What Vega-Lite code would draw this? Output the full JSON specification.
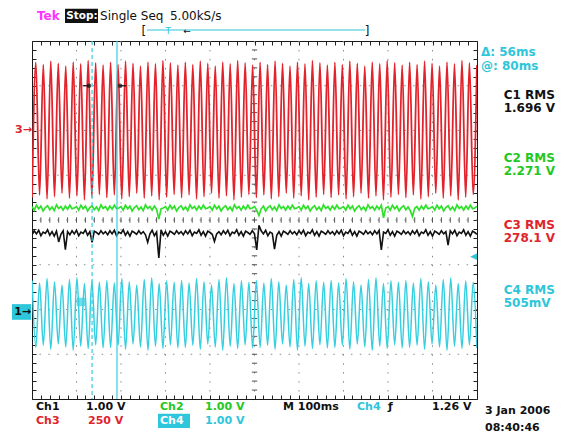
{
"$schema": "https://vega.github.io/schema/vega-lite/v6.json",
"width": 445, "height": 358,
"autosize": {"type": "none"},
"padding": {"left": 32, "top": 41, "right": 87, "bottom": 36},
"background": "white",
"config": {"view": {"stroke": "#1a1a1a", "strokeWidth": 1}, "font": "DejaVu Sans",
  "axis": {"labels": false, "title": null, "domain": false, "grid": false, "tickColor": "#222222", "tickWidth": 1, "tickSize": -4}},
"datasets": {
"gx": [{"a":-400},{"a":-300},{"a":-200},{"a":-100},{"a":0},{"a":100},{"a":200},{"a":300},{"a":400}],
"gy": [{"a":-3},{"a":-2},{"a":-1},{"a":0},{"a":1},{"a":2},{"a":3}],
"cx": [{"a":-480},{"a":-460},{"a":-440},{"a":-420},{"a":-400},{"a":-380},{"a":-360},{"a":-340},{"a":-320},{"a":-300},{"a":-280},{"a":-260},{"a":-240},{"a":-220},{"a":-200},{"a":-180},{"a":-160},{"a":-140},{"a":-120},{"a":-100},{"a":-80},{"a":-60},{"a":-40},{"a":-20},{"a":0},{"a":20},{"a":40},{"a":60},{"a":80},{"a":100},{"a":120},{"a":140},{"a":160},{"a":180},{"a":200},{"a":220},{"a":240},{"a":260},{"a":280},{"a":300},{"a":320},{"a":340},{"a":360},{"a":380},{"a":400},{"a":420},{"a":440},{"a":460},{"a":480}],
"cy": [{"a":-3.8},{"a":-3.6},{"a":-3.4},{"a":-3.2},{"a":-3},{"a":-2.8},{"a":-2.6},{"a":-2.4},{"a":-2.2},{"a":-2},{"a":-1.8},{"a":-1.6},{"a":-1.4},{"a":-1.2},{"a":-1},{"a":-0.8},{"a":-0.6},{"a":-0.4},{"a":-0.2},{"a":0},{"a":0.2},{"a":0.4},{"a":0.6},{"a":0.8},{"a":1},{"a":1.2},{"a":1.4},{"a":1.6},{"a":1.8},{"a":2},{"a":2.2},{"a":2.4},{"a":2.6},{"a":2.8},{"a":3},{"a":3.2},{"a":3.4},{"a":3.6},{"a":3.8}],
"wave": [
{"t":-499.8,"r":0.50,"c":-1.35},{"t":-491.4,"r":3.52,"c":-2.85},
{"t":-483.0,"r":0.56,"c":-1.41},{"t":-474.6,"r":3.47,"c":-2.80},
{"t":-466.2,"r":0.47,"c":-1.31},{"t":-457.8,"r":3.55,"c":-2.89},
{"t":-449.4,"r":0.52,"c":-1.38},{"t":-441.0,"r":3.50,"c":-2.77},
{"t":-432.6,"r":0.60,"c":-1.45},{"t":-424.2,"r":3.44,"c":-2.84},
{"t":-415.8,"r":0.49,"c":-1.33},{"t":-407.4,"r":3.53,"c":-2.91},
{"t":-399.0,"r":0.54,"c":-1.29},{"t":-390.6,"r":3.49,"c":-2.82},
{"t":-382.2,"r":0.45,"c":-1.42},{"t":-373.8,"r":3.56,"c":-2.87},
{"t":-365.4,"r":0.51,"c":-1.36},{"t":-357.0,"r":3.51,"c":-2.79},
{"t":-348.6,"r":0.57,"c":-1.39},{"t":-340.2,"r":3.46,"c":-2.86},
{"t":-331.8,"r":0.50,"c":-1.35},{"t":-323.4,"r":3.52,"c":-2.85},
{"t":-315.0,"r":0.56,"c":-1.41},{"t":-306.6,"r":3.47,"c":-2.80},
{"t":-298.2,"r":0.47,"c":-1.31},{"t":-289.8,"r":3.55,"c":-2.89},
{"t":-281.4,"r":0.52,"c":-1.38},{"t":-273.0,"r":3.50,"c":-2.77},
{"t":-264.6,"r":0.60,"c":-1.45},{"t":-256.2,"r":3.44,"c":-2.84},
{"t":-247.8,"r":0.49,"c":-1.33},{"t":-239.4,"r":3.53,"c":-2.91},
{"t":-231.0,"r":0.54,"c":-1.29},{"t":-222.6,"r":3.49,"c":-2.82},
{"t":-214.2,"r":0.45,"c":-1.42},{"t":-205.8,"r":3.56,"c":-2.87},
{"t":-197.4,"r":0.51,"c":-1.36},{"t":-189.0,"r":3.51,"c":-2.79},
{"t":-180.6,"r":0.57,"c":-1.39},{"t":-172.2,"r":3.46,"c":-2.86},
{"t":-163.8,"r":0.50,"c":-1.35},{"t":-155.4,"r":3.52,"c":-2.85},
{"t":-147.0,"r":0.56,"c":-1.41},{"t":-138.6,"r":3.47,"c":-2.80},
{"t":-130.2,"r":0.47,"c":-1.31},{"t":-121.8,"r":3.55,"c":-2.89},
{"t":-113.4,"r":0.52,"c":-1.38},{"t":-105.0,"r":3.50,"c":-2.77},
{"t":-96.6,"r":0.60,"c":-1.45},{"t":-88.2,"r":3.44,"c":-2.84},
{"t":-79.8,"r":0.49,"c":-1.33},{"t":-71.4,"r":3.53,"c":-2.91},
{"t":-63.0,"r":0.54,"c":-1.29},{"t":-54.6,"r":3.49,"c":-2.82},
{"t":-46.2,"r":0.45,"c":-1.42},{"t":-37.8,"r":3.56,"c":-2.87},
{"t":-29.4,"r":0.51,"c":-1.36},{"t":-21.0,"r":3.51,"c":-2.79},
{"t":-12.6,"r":0.57,"c":-1.39},{"t":-4.2,"r":3.46,"c":-2.86},
{"t":4.2,"r":0.50,"c":-1.35},{"t":12.6,"r":3.52,"c":-2.85},
{"t":21.0,"r":0.56,"c":-1.41},{"t":29.4,"r":3.47,"c":-2.80},
{"t":37.8,"r":0.47,"c":-1.31},{"t":46.2,"r":3.55,"c":-2.89},
{"t":54.6,"r":0.52,"c":-1.38},{"t":63.0,"r":3.50,"c":-2.77},
{"t":71.4,"r":0.60,"c":-1.45},{"t":79.8,"r":3.44,"c":-2.84},
{"t":88.2,"r":0.49,"c":-1.33},{"t":96.6,"r":3.53,"c":-2.91},
{"t":105.0,"r":0.54,"c":-1.29},{"t":113.4,"r":3.49,"c":-2.82},
{"t":121.8,"r":0.45,"c":-1.42},{"t":130.2,"r":3.56,"c":-2.87},
{"t":138.6,"r":0.51,"c":-1.36},{"t":147.0,"r":3.51,"c":-2.79},
{"t":155.4,"r":0.57,"c":-1.39},{"t":163.8,"r":3.46,"c":-2.86},
{"t":172.2,"r":0.50,"c":-1.35},{"t":180.6,"r":3.52,"c":-2.85},
{"t":189.0,"r":0.56,"c":-1.41},{"t":197.4,"r":3.47,"c":-2.80},
{"t":205.8,"r":0.47,"c":-1.31},{"t":214.2,"r":3.55,"c":-2.89},
{"t":222.6,"r":0.52,"c":-1.38},{"t":231.0,"r":3.50,"c":-2.77},
{"t":239.4,"r":0.60,"c":-1.45},{"t":247.8,"r":3.44,"c":-2.84},
{"t":256.2,"r":0.49,"c":-1.33},{"t":264.6,"r":3.53,"c":-2.91},
{"t":273.0,"r":0.54,"c":-1.29},{"t":281.4,"r":3.49,"c":-2.82},
{"t":289.8,"r":0.45,"c":-1.42},{"t":298.2,"r":3.56,"c":-2.87},
{"t":306.6,"r":0.51,"c":-1.36},{"t":315.0,"r":3.51,"c":-2.79},
{"t":323.4,"r":0.57,"c":-1.39},{"t":331.8,"r":3.46,"c":-2.86},
{"t":340.2,"r":0.50,"c":-1.35},{"t":348.6,"r":3.52,"c":-2.85},
{"t":357.0,"r":0.56,"c":-1.41},{"t":365.4,"r":3.47,"c":-2.80},
{"t":373.8,"r":0.47,"c":-1.31},{"t":382.2,"r":3.55,"c":-2.89},
{"t":390.6,"r":0.52,"c":-1.38},{"t":399.0,"r":3.50,"c":-2.77},
{"t":407.4,"r":0.60,"c":-1.45},{"t":415.8,"r":3.44,"c":-2.84},
{"t":424.2,"r":0.49,"c":-1.33},{"t":432.6,"r":3.53,"c":-2.91},
{"t":441.0,"r":0.54,"c":-1.29},{"t":449.4,"r":3.49,"c":-2.82},
{"t":457.8,"r":0.45,"c":-1.42},{"t":466.2,"r":3.56,"c":-2.87},
{"t":474.6,"r":0.51,"c":-1.36},{"t":483.0,"r":3.51,"c":-2.79},
{"t":491.4,"r":0.57,"c":-1.39},{"t":499.8,"r":3.46,"c":-2.86}
],
"noise": [
{"t":-500,"g":0.30,"k":-0.33},{"t":-495,"g":0.22,"k":-0.24},{"t":-490,"g":0.33,"k":-0.31},{"t":-485,"g":0.25,"k":-0.23},{"t":-480,"g":0.31,"k":-0.35},
{"t":-475,"g":0.20,"k":-0.27},{"t":-470,"g":0.28,"k":-0.30},{"t":-465,"g":0.32,"k":-0.22},{"t":-460,"g":0.23,"k":-0.34},{"t":-455,"g":0.29,"k":-0.26},
{"t":-450,"g":0.21,"k":-0.36},{"t":-445,"g":0.34,"k":-0.25},{"t":-440,"g":0.26,"k":-0.49},{"t":-435,"g":0.30,"k":-0.32},{"t":-430,"g":0.22,"k":-0.24},
{"t":-425,"g":0.31,"k":-0.66},{"t":-420,"g":0.24,"k":-0.26},{"t":-415,"g":0.33,"k":-0.33},{"t":-410,"g":0.25,"k":-0.24},{"t":-405,"g":0.27,"k":-0.31},
{"t":-400,"g":0.30,"k":-0.23},{"t":-395,"g":0.22,"k":-0.35},{"t":-390,"g":0.33,"k":-0.27},{"t":-385,"g":0.25,"k":-0.30},{"t":-380,"g":0.31,"k":-0.22},
{"t":-375,"g":0.20,"k":-0.34},{"t":-370,"g":0.28,"k":-0.26},{"t":-365,"g":0.32,"k":-0.50},{"t":-360,"g":0.23,"k":-0.25},{"t":-355,"g":0.29,"k":-0.28},
{"t":-350,"g":0.21,"k":-0.32},{"t":-345,"g":0.34,"k":-0.24},{"t":-340,"g":0.26,"k":-0.31},{"t":-335,"g":0.30,"k":-0.26},{"t":-330,"g":0.22,"k":-0.33},
{"t":-325,"g":0.31,"k":-0.24},{"t":-320,"g":0.24,"k":-0.31},{"t":-315,"g":0.33,"k":-0.23},{"t":-310,"g":0.25,"k":-0.35},{"t":-305,"g":0.27,"k":-0.27},
{"t":-300,"g":0.30,"k":-0.30},{"t":-295,"g":0.22,"k":-0.22},{"t":-290,"g":0.33,"k":-0.34},{"t":-285,"g":0.25,"k":-0.26},{"t":-280,"g":0.31,"k":-0.36},
{"t":-275,"g":0.20,"k":-0.25},{"t":-270,"g":0.28,"k":-0.28},{"t":-265,"g":0.32,"k":-0.32},{"t":-260,"g":0.23,"k":-0.24},{"t":-255,"g":0.29,"k":-0.31},
{"t":-250,"g":0.21,"k":-0.26},{"t":-245,"g":0.34,"k":-0.33},{"t":-240,"g":0.26,"k":-0.50},{"t":-235,"g":0.30,"k":-0.31},{"t":-230,"g":0.22,"k":-0.23},
{"t":-225,"g":0.31,"k":-0.35},{"t":-220,"g":0.24,"k":-0.27},{"t":-215,"g":0.02,"k":-0.85},{"t":-210,"g":0.25,"k":-0.22},{"t":-205,"g":0.27,"k":-0.34},
{"t":-200,"g":0.30,"k":-0.26},{"t":-195,"g":0.22,"k":-0.36},{"t":-190,"g":0.33,"k":-0.25},{"t":-185,"g":0.25,"k":-0.28},{"t":-180,"g":0.31,"k":-0.32},
{"t":-175,"g":0.20,"k":-0.24},{"t":-170,"g":0.28,"k":-0.31},{"t":-165,"g":0.32,"k":-0.26},{"t":-160,"g":0.23,"k":-0.33},{"t":-155,"g":0.29,"k":-0.24},
{"t":-150,"g":0.21,"k":-0.31},{"t":-145,"g":0.34,"k":-0.23},{"t":-140,"g":0.26,"k":-0.35},{"t":-135,"g":0.30,"k":-0.27},{"t":-130,"g":0.22,"k":-0.30},
{"t":-125,"g":0.31,"k":-0.22},{"t":-120,"g":0.24,"k":-0.34},{"t":-115,"g":0.33,"k":-0.26},{"t":-110,"g":0.25,"k":-0.36},{"t":-105,"g":0.27,"k":-0.25},
{"t":-100,"g":0.30,"k":-0.28},{"t":-95,"g":0.22,"k":-0.32},{"t":-90,"g":0.33,"k":-0.48},{"t":-85,"g":0.25,"k":-0.31},{"t":-80,"g":0.31,"k":-0.26},
{"t":-75,"g":0.20,"k":-0.33},{"t":-70,"g":0.28,"k":-0.24},{"t":-65,"g":0.32,"k":-0.31},{"t":-60,"g":0.23,"k":-0.23},{"t":-55,"g":0.29,"k":-0.35},
{"t":-50,"g":0.21,"k":-0.27},{"t":-45,"g":0.34,"k":-0.30},{"t":-40,"g":0.26,"k":-0.22},{"t":-35,"g":0.30,"k":-0.34},{"t":-30,"g":0.22,"k":-0.26},
{"t":-25,"g":0.31,"k":-0.36},{"t":-20,"g":0.24,"k":-0.25},{"t":-15,"g":0.33,"k":-0.28},{"t":-10,"g":0.25,"k":-0.32},{"t":-5,"g":0.27,"k":-0.24},
{"t":0,"g":0.30,"k":-0.31},{"t":5,"g":0.22,"k":-0.67},{"t":10,"g":0.10,"k":-0.12},{"t":15,"g":0.25,"k":-0.24},{"t":20,"g":0.31,"k":-0.31},
{"t":25,"g":0.20,"k":-0.23},{"t":30,"g":0.28,"k":-0.35},{"t":35,"g":0.32,"k":-0.27},{"t":40,"g":0.23,"k":-0.30},{"t":45,"g":0.29,"k":-0.65},
{"t":50,"g":0.21,"k":-0.34},{"t":55,"g":0.34,"k":-0.26},{"t":60,"g":0.26,"k":-0.36},{"t":65,"g":0.30,"k":-0.25},{"t":70,"g":0.22,"k":-0.28},
{"t":75,"g":0.31,"k":-0.32},{"t":80,"g":0.24,"k":-0.24},{"t":85,"g":0.33,"k":-0.31},{"t":90,"g":0.25,"k":-0.26},{"t":95,"g":0.27,"k":-0.33},
{"t":100,"g":0.30,"k":-0.24},{"t":105,"g":0.22,"k":-0.31},{"t":110,"g":0.33,"k":-0.23},{"t":115,"g":0.25,"k":-0.35},{"t":120,"g":0.31,"k":-0.27},
{"t":125,"g":0.20,"k":-0.30},{"t":130,"g":0.28,"k":-0.22},{"t":135,"g":0.32,"k":-0.34},{"t":140,"g":0.23,"k":-0.26},{"t":145,"g":0.29,"k":-0.36},
{"t":150,"g":0.21,"k":-0.25},{"t":155,"g":0.34,"k":-0.28},{"t":160,"g":0.26,"k":-0.32},{"t":165,"g":0.30,"k":-0.24},{"t":170,"g":0.22,"k":-0.31},
{"t":175,"g":0.31,"k":-0.26},{"t":180,"g":0.24,"k":-0.33},{"t":185,"g":0.33,"k":-0.24},{"t":190,"g":0.25,"k":-0.31},{"t":195,"g":0.27,"k":-0.23},
{"t":200,"g":0.30,"k":-0.35},{"t":205,"g":0.22,"k":-0.27},{"t":210,"g":0.33,"k":-0.30},{"t":215,"g":0.25,"k":-0.22},{"t":220,"g":0.31,"k":-0.34},
{"t":225,"g":0.20,"k":-0.26},{"t":230,"g":0.28,"k":-0.36},{"t":235,"g":0.32,"k":-0.25},{"t":240,"g":0.23,"k":-0.28},{"t":245,"g":0.29,"k":-0.32},
{"t":250,"g":0.21,"k":-0.24},{"t":255,"g":0.34,"k":-0.31},{"t":260,"g":0.26,"k":-0.26},{"t":265,"g":0.30,"k":-0.33},{"t":270,"g":0.22,"k":-0.24},
{"t":275,"g":0.31,"k":-0.31},{"t":280,"g":0.24,"k":-0.23},{"t":285,"g":0.33,"k":-0.67},{"t":290,"g":0.05,"k":-0.27},{"t":295,"g":0.27,"k":-0.30},
{"t":300,"g":0.30,"k":-0.22},{"t":305,"g":0.22,"k":-0.34},{"t":310,"g":0.33,"k":-0.26},{"t":315,"g":0.25,"k":-0.36},{"t":320,"g":0.31,"k":-0.25},
{"t":325,"g":0.20,"k":-0.28},{"t":330,"g":0.28,"k":-0.32},{"t":335,"g":0.32,"k":-0.24},{"t":340,"g":0.23,"k":-0.31},{"t":345,"g":0.29,"k":-0.26},
{"t":350,"g":0.21,"k":-0.33},{"t":355,"g":0.08,"k":-0.24},{"t":360,"g":0.26,"k":-0.31},{"t":365,"g":0.30,"k":-0.23},{"t":370,"g":0.22,"k":-0.35},
{"t":375,"g":0.31,"k":-0.27},{"t":380,"g":0.24,"k":-0.30},{"t":385,"g":0.33,"k":-0.22},{"t":390,"g":0.25,"k":-0.34},{"t":395,"g":0.27,"k":-0.26},
{"t":400,"g":0.30,"k":-0.36},{"t":405,"g":0.22,"k":-0.25},{"t":410,"g":0.33,"k":-0.28},{"t":415,"g":0.25,"k":-0.32},{"t":420,"g":0.31,"k":-0.24},
{"t":425,"g":0.20,"k":-0.31},{"t":430,"g":0.28,"k":-0.26},{"t":435,"g":0.32,"k":-0.56},{"t":440,"g":0.23,"k":-0.24},{"t":445,"g":0.29,"k":-0.31},
{"t":450,"g":0.21,"k":-0.23},{"t":455,"g":0.34,"k":-0.35},{"t":460,"g":0.26,"k":-0.27},{"t":465,"g":0.30,"k":-0.30},{"t":470,"g":0.22,"k":-0.22},
{"t":475,"g":0.31,"k":-0.34},{"t":480,"g":0.24,"k":-0.26},{"t":485,"g":0.33,"k":-0.36},{"t":490,"g":0.25,"k":-0.25},{"t":495,"g":0.27,"k":-0.28},
{"t":500,"g":0.30,"k":-0.32}
],
"cur": [{"t":-365,"k":"d"},{"t":-309,"k":"s"}],
"seg": [{"t":-386,"t2":-372,"v":3,"ch":"k"},{"t":-302,"t2":-288,"v":3,"ch":"k"},{"t":-241.6,"t2":248.3,"v":4.246,"ch":"c"}],
"dots": [{"t":-372,"v":3},{"t":-302,"v":3}],
"sq": [{"t":-390,"v":-1.83}],
"boxes": [{"t":-425.8,"t2":-351.7,"v":4.40,"v2":4.72,"ch":"k"},{"t":-216.9,"t2":-145,"v":-4.33,"v2":-4.65,"ch":"c"},{"t":-544.9,"t2":-502.2,"v":-1.88,"v2":-2.23,"ch":"c"}],
"labels": [
{"t":-488.8,"v":4.56,"txt":"Tek","ch":"m","g":"b12"},
{"t":-423,"v":4.56,"txt":"Stop:","ch":"w","g":"hs"},
{"t":-347,"v":4.56,"txt":"Single Seq","ch":"k","g":"h"},
{"t":-190,"v":4.56,"txt":"5.00kS/s","ch":"k","g":"h"},
{"t":-254,"v":4.22,"txt":"[","ch":"k","g":"h"},
{"t":248,"v":4.22,"txt":"]","ch":"k","g":"h"},
{"t":-200,"v":4.22,"txt":"T","ch":"c","g":"sm"},
{"t":-160,"v":4.22,"txt":"←","ch":"k","g":"sm"},
{"t":509,"v":3.75,"txt":"Δ: 56ms","ch":"c","g":"b12"},
{"t":509,"v":3.45,"txt":"@: 80ms","ch":"c","g":"b12"},
{"t":560,"v":2.80,"txt":"C1 RMS","ch":"k","g":"b12"},
{"t":560,"v":2.51,"txt":"1.696 V","ch":"k","g":"b12"},
{"t":560,"v":1.39,"txt":"C2 RMS","ch":"g","g":"b12"},
{"t":560,"v":1.10,"txt":"2.271 V","ch":"g","g":"b12"},
{"t":560,"v":-0.11,"txt":"C3 RMS","ch":"r","g":"b12"},
{"t":560,"v":-0.40,"txt":"278.1 V","ch":"r","g":"b12"},
{"t":560,"v":-1.56,"txt":"C4 RMS","ch":"c","g":"b12"},
{"t":560,"v":-1.86,"txt":"505mV","ch":"c","g":"b12"},
{"t":-491,"v":-4.18,"txt":"Ch1","ch":"k","g":"f"},
{"t":-378.7,"v":-4.18,"txt":"1.00 V","ch":"k","g":"f"},
{"t":-212.4,"v":-4.18,"txt":"Ch2","ch":"g","g":"f"},
{"t":-111.2,"v":-4.18,"txt":"1.00 V","ch":"g","g":"f"},
{"t":64,"v":-4.18,"txt":"M 100ms","ch":"k","g":"f"},
{"t":230.3,"v":-4.18,"txt":"Ch4","ch":"c","g":"f"},
{"t":300,"v":-4.18,"txt":"ƒ","ch":"k","g":"f"},
{"t":398.9,"v":-4.18,"txt":"1.26 V","ch":"k","g":"f"},
{"t":-491,"v":-4.49,"txt":"Ch3","ch":"r","g":"f"},
{"t":-374.2,"v":-4.49,"txt":"250 V","ch":"r","g":"f"},
{"t":-212.4,"v":-4.49,"txt":"Ch4","ch":"w","g":"f"},
{"t":-111.2,"v":-4.49,"txt":"1.00 V","ch":"c","g":"f"},
{"t":518,"v":-4.27,"txt":"3 Jan 2006","ch":"k","g":"f"},
{"t":518,"v":-4.65,"txt":"08:40:46","ch":"k","g":"f"},
{"t":-538,"v":2.01,"txt":"3→","ch":"r","g":"f"},
{"t":-540,"v":-2.06,"txt":"1→","ch":"k","g":"f"},
{"t":484,"v":-0.80,"txt":"◀","ch":"c","g":"sm"}
]
},
"layer": [
{"data": {"name": "gx"}, "mark": {"type": "rule", "stroke": "#8a8a8a", "strokeWidth": 1, "strokeDash": [1.5, 7.45]},
 "encoding": {"x": {"field": "a", "type": "quantitative", "scale": {"domain": [-500, 500], "nice": false, "zero": false}, "axis": {"orient": "bottom", "tickCount": 50}}}},
{"data": {"name": "gy"}, "mark": {"type": "rule", "stroke": "#8a8a8a", "strokeWidth": 1, "strokeDash": [1.5, 7.4]},
 "encoding": {"y": {"field": "a", "type": "quantitative", "scale": {"domain": [-4, 4], "nice": false, "zero": false}, "axis": {"orient": "left", "tickCount": 40}}}},
{"data": {"name": "cx"}, "mark": {"type": "rule", "stroke": "#555555", "strokeWidth": 1},
 "encoding": {"x": {"field": "a", "type": "quantitative", "scale": {"domain": [-500, 500]}, "axis": null},
   "y": {"datum": -0.06, "type": "quantitative", "scale": {"domain": [-4, 4]}, "axis": null}, "y2": {"datum": 0.06}}},
{"data": {"name": "cy"}, "mark": {"type": "rule", "stroke": "#555555", "strokeWidth": 1},
 "encoding": {"y": {"field": "a", "type": "quantitative", "scale": {"domain": [-4, 4]}, "axis": null},
   "x": {"datum": -6, "type": "quantitative", "scale": {"domain": [-500, 500]}, "axis": null}, "x2": {"datum": 6}}},
{"data": {"name": "wave"}, "mark": {"type": "line", "stroke": "#e2232b", "strokeWidth": 1.8, "interpolate": "monotone", "clip": true},
 "encoding": {"x": {"field": "t", "type": "quantitative", "scale": {"domain": [-500, 500]}, "axis": {"orient": "top", "tickCount": 50}},
   "y": {"field": "r", "type": "quantitative", "scale": {"domain": [-4, 4]}, "axis": {"orient": "right", "tickCount": 40}}}},
{"data": {"name": "wave"}, "mark": {"type": "line", "stroke": "#35cfe0", "strokeWidth": 1.5, "interpolate": "monotone", "clip": true},
 "encoding": {"x": {"field": "t", "type": "quantitative", "scale": {"domain": [-500, 500]}, "axis": null},
   "y": {"field": "c", "type": "quantitative", "scale": {"domain": [-4, 4]}, "axis": null}}},
{"data": {"name": "noise"}, "mark": {"type": "line", "stroke": "#2fe02a", "strokeWidth": 1.7, "clip": true},
 "encoding": {"x": {"field": "t", "type": "quantitative", "scale": {"domain": [-500, 500]}, "axis": null},
   "y": {"field": "g", "type": "quantitative", "scale": {"domain": [-4, 4]}, "axis": null}}},
{"data": {"name": "noise"}, "mark": {"type": "line", "stroke": "#111111", "strokeWidth": 1.6, "clip": true},
 "encoding": {"x": {"field": "t", "type": "quantitative", "scale": {"domain": [-500, 500]}, "axis": null},
   "y": {"field": "k", "type": "quantitative", "scale": {"domain": [-4, 4]}, "axis": null}}},
{"data": {"name": "cur"}, "mark": {"type": "rule", "stroke": "#35cfe0", "strokeWidth": 1.2},
 "encoding": {"x": {"field": "t", "type": "quantitative", "scale": {"domain": [-500, 500]}, "axis": null},
   "strokeDash": {"field": "k", "type": "nominal", "scale": {"domain": ["d", "s"], "range": [[4, 3], [1, 0]]}, "legend": null}}},
{"data": {"name": "seg"}, "mark": {"type": "rule", "strokeWidth": 1.2},
 "encoding": {"x": {"field": "t", "type": "quantitative", "scale": {"domain": [-500, 500]}, "axis": null}, "x2": {"field": "t2"},
   "y": {"field": "v", "type": "quantitative", "scale": {"domain": [-4, 4]}, "axis": null},
   "color": {"field": "ch", "type": "nominal", "scale": {"domain": ["k","g","r","c","m","w"], "range": ["#111111","#22c822","#e0242c","#2ec6da","#ff33ff","#ffffff"]}, "legend": null}}},
{"data": {"name": "dots"}, "mark": {"type": "point", "shape": "circle", "filled": true, "size": 22, "color": "#111111"},
 "encoding": {"x": {"field": "t", "type": "quantitative", "scale": {"domain": [-500, 500]}, "axis": null},
   "y": {"field": "v", "type": "quantitative", "scale": {"domain": [-4, 4]}, "axis": null}}},
{"data": {"name": "sq"}, "mark": {"type": "point", "shape": "square", "filled": true, "size": 70, "color": "#35cfe0"},
 "encoding": {"x": {"field": "t", "type": "quantitative", "scale": {"domain": [-500, 500]}, "axis": null},
   "y": {"field": "v", "type": "quantitative", "scale": {"domain": [-4, 4]}, "axis": null}}},
{"data": {"name": "boxes"}, "mark": {"type": "rect"},
 "encoding": {"x": {"field": "t", "type": "quantitative", "scale": {"domain": [-500, 500]}, "axis": null}, "x2": {"field": "t2"},
   "y": {"field": "v", "type": "quantitative", "scale": {"domain": [-4, 4]}, "axis": null}, "y2": {"field": "v2"},
   "color": {"field": "ch", "type": "nominal", "scale": {"domain": ["k","g","r","c","m","w"], "range": ["#111111","#22c822","#e0242c","#2ec6da","#ff33ff","#ffffff"]}, "legend": null}}},
{"data": {"name": "labels"}, "transform": [{"filter": "datum.g === 'b12'"}],
 "mark": {"type": "text", "align": "left", "baseline": "middle", "fontSize": 12, "fontWeight": "bold", "font": "DejaVu Sans"},
 "encoding": {"x": {"field": "t", "type": "quantitative", "scale": {"domain": [-500, 500]}, "axis": null},
   "y": {"field": "v", "type": "quantitative", "scale": {"domain": [-4, 4]}, "axis": null}, "text": {"field": "txt"},
   "color": {"field": "ch", "type": "nominal", "scale": {"domain": ["k","g","r","c","m","w"], "range": ["#111111","#22c822","#e0242c","#2ec6da","#ff33ff","#ffffff"]}, "legend": null}}},
{"data": {"name": "labels"}, "transform": [{"filter": "datum.g === 'hs'"}],
 "mark": {"type": "text", "align": "left", "baseline": "middle", "fontSize": 10.5, "fontWeight": "bold", "font": "DejaVu Sans"},
 "encoding": {"x": {"field": "t", "type": "quantitative", "scale": {"domain": [-500, 500]}, "axis": null},
   "y": {"field": "v", "type": "quantitative", "scale": {"domain": [-4, 4]}, "axis": null}, "text": {"field": "txt"},
   "color": {"field": "ch", "type": "nominal", "scale": {"domain": ["k","g","r","c","m","w"], "range": ["#111111","#22c822","#e0242c","#2ec6da","#ff33ff","#ffffff"]}, "legend": null}}},
{"data": {"name": "labels"}, "transform": [{"filter": "datum.g === 'h'"}],
 "mark": {"type": "text", "align": "left", "baseline": "middle", "fontSize": 12, "font": "DejaVu Sans"},
 "encoding": {"x": {"field": "t", "type": "quantitative", "scale": {"domain": [-500, 500]}, "axis": null},
   "y": {"field": "v", "type": "quantitative", "scale": {"domain": [-4, 4]}, "axis": null}, "text": {"field": "txt"},
   "color": {"field": "ch", "type": "nominal", "scale": {"domain": ["k","g","r","c","m","w"], "range": ["#111111","#22c822","#e0242c","#2ec6da","#ff33ff","#ffffff"]}, "legend": null}}},
{"data": {"name": "labels"}, "transform": [{"filter": "datum.g === 'sm'"}],
 "mark": {"type": "text", "align": "left", "baseline": "middle", "fontSize": 9, "font": "DejaVu Sans"},
 "encoding": {"x": {"field": "t", "type": "quantitative", "scale": {"domain": [-500, 500]}, "axis": null},
   "y": {"field": "v", "type": "quantitative", "scale": {"domain": [-4, 4]}, "axis": null}, "text": {"field": "txt"},
   "color": {"field": "ch", "type": "nominal", "scale": {"domain": ["k","g","r","c","m","w"], "range": ["#111111","#22c822","#e0242c","#2ec6da","#ff33ff","#ffffff"]}, "legend": null}}},
{"data": {"name": "labels"}, "transform": [{"filter": "datum.g === 'f'"}],
 "mark": {"type": "text", "align": "left", "baseline": "middle", "fontSize": 11, "fontWeight": "bold", "font": "DejaVu Sans"},
 "encoding": {"x": {"field": "t", "type": "quantitative", "scale": {"domain": [-500, 500]}, "axis": null},
   "y": {"field": "v", "type": "quantitative", "scale": {"domain": [-4, 4]}, "axis": null}, "text": {"field": "txt"},
   "color": {"field": "ch", "type": "nominal", "scale": {"domain": ["k","g","r","c","m","w"], "range": ["#111111","#22c822","#e0242c","#2ec6da","#ff33ff","#ffffff"]}, "legend": null}}}
]
}
